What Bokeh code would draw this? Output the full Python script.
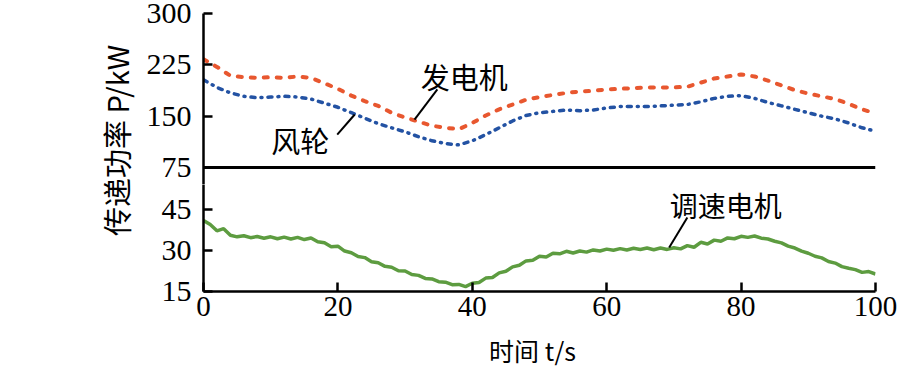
from bokeh.plotting import figure
from bokeh.models import Range1d, FixedTicker, Span, Label
from bokeh.layouts import row, column
from bokeh.embed import file_html
from bokeh.resources import INLINE
from bokeh.core.properties import value
import math

# ---- data ----
t_top = list(range(0, 101, 2))
generator = [233, 222, 209, 207, 206, 207, 206, 208, 206, 198,
             190, 180, 172, 165, 155, 148, 142, 136, 133, 131,
             140, 151, 160, 167, 174, 178, 181, 184, 186, 187,
             189, 190, 191, 192, 192, 192, 193, 199, 205, 208,
             211, 208, 202, 195, 188, 183, 179, 175, 168, 160, 154]
wind_rotor = [203, 192, 184, 179, 177, 178, 179, 178, 175, 169,
              163, 155, 147, 139, 133, 127, 120, 114, 110, 108,
              114, 123, 133, 143, 151, 155, 157, 159, 158, 159,
              162, 164, 164, 164, 165, 166, 167, 171, 176, 179,
              180, 176, 170, 165, 160, 155, 150, 146, 140, 133, 128]

t_low = list(range(0, 101))
speed_motor = [41.0, 39.5, 37.2, 38.0, 35.6, 35.0, 35.4, 34.7, 35.1, 34.5,
               35.0, 34.3, 34.9, 34.2, 34.8, 34.0, 34.6, 33.2, 32.8, 31.4,
               31.6, 29.8, 29.2, 27.8, 27.4, 25.9, 25.5, 24.2, 23.9, 22.6,
               22.5, 21.2, 20.9, 19.8, 19.6, 18.6, 18.4, 17.5, 17.6, 16.8,
               18.0, 18.3, 19.9, 20.1, 21.8, 22.4, 24.0, 24.6, 26.2, 26.4,
               27.9, 27.6, 29.0, 28.8, 29.7, 29.1, 29.8, 29.4, 30.2, 29.8,
               30.5, 30.1, 30.7, 30.2, 30.8, 30.4, 30.9, 30.3, 30.9, 30.4,
               31.0, 30.6, 31.8, 31.2, 33.0, 32.4, 33.8, 33.4, 34.6, 34.3,
               35.2, 34.8, 35.3, 34.5, 34.2, 33.4, 32.8, 31.6, 30.9, 29.8,
               29.0, 27.9, 27.3, 26.0, 25.4, 24.1, 23.5, 23.0, 22.0, 22.3, 21.4]

x_ticks = [0, 20, 40, 60, 80, 100]
top_ticks = [75, 150, 225, 300]
low_ticks = [15, 30, 45]

RED = "#E8572F"
BLUE = "#2352A3"
GREEN = "#5D9C40"
NUM_FONT = "Liberation Serif"
CJK_FONT = "Noto Sans CJK SC"

x_range = Range1d(0, 100)


def style_axes(p):
    for ax in p.yaxis:
        ax.axis_line_width = 2.5
        ax.major_tick_in = 9
        ax.major_tick_out = 0
        ax.major_tick_line_width = 2.5
        ax.minor_tick_line_color = None
        ax.major_label_text_font = NUM_FONT
        ax.major_label_text_font_size = "30px"
        ax.major_label_text_color = "black"
        ax.major_label_standoff = 12
    p.grid.grid_line_color = None
    p.outline_line_color = None
    p.background_fill_color = "white"
    p.border_fill_color = "white"


# ---- top panel ----
top = figure(width=764, height=184, x_range=x_range, y_range=Range1d(50.16, 300),
             output_backend="svg", toolbar_location=None, x_axis_location=None,
             min_border_left=66, min_border_right=26, min_border_top=13, min_border_bottom=0)
style_axes(top)
top.yaxis.ticker = FixedTicker(ticks=top_ticks)

top.line(t_top, generator, line_color=RED, line_width=4, line_dash="4 9", line_cap="round")
top.line(t_top, wind_rotor, line_color=BLUE, line_width=3.5, line_dash="4 6 1 6", line_cap="round")
top.add_layout(Span(location=75, dimension="width", line_color="black", line_width=3))

top.segment(x0=[19.9, 34.8], y0=[123, 189], x1=[22.5, 31.4], y1=[152.4, 145],
            line_color="black", line_width=2)
top.text(x=[14.4, 38.8], y=[114.5, 209.4], text=["风轮", "发电机"],
         text_font=value(CJK_FONT), text_font_size="29px", text_align="center",
         text_baseline="middle", text_color="black")

# ---- bottom panel ----
low = figure(width=764, height=146, x_range=x_range, y_range=Range1d(15, 54.15),
             output_backend="svg", toolbar_location=None,
             min_border_left=66, min_border_right=26, min_border_top=0, min_border_bottom=39)
style_axes(low)
low.yaxis.ticker = FixedTicker(ticks=low_ticks)
xa = low.xaxis[0]
xa.ticker = FixedTicker(ticks=x_ticks)
xa.axis_line_width = 2.5
xa.major_tick_in = 9
xa.major_tick_out = 0
xa.major_tick_line_width = 2.5
xa.minor_tick_line_color = None
xa.major_label_text_font = NUM_FONT
xa.major_label_text_font_size = "29px"
xa.major_label_text_color = "black"
xa.major_label_standoff = 5

low.line(t_low, speed_motor, line_color=GREEN, line_width=3.5)
low.segment(x0=[72.0], y0=[42.1], x1=[69.3], y1=[31.1], line_color="black", line_width=2)
low.text(x=[77.7], y=[46.8], text=["调速电机"], text_font=value(CJK_FONT),
         text_font_size="28px", text_align="center", text_baseline="middle", text_color="black")

# ---- y label strip ----
lab = figure(width=137, height=330, x_range=Range1d(0, 137), y_range=Range1d(0, 330),
             output_backend="svg", toolbar_location=None, x_axis_location=None,
             y_axis_location=None, min_border=0)
lab.grid.grid_line_color = None
lab.outline_line_color = None
lab.add_layout(Label(x=115, y=190, text="传递功率 P/kW", angle=math.pi / 2,
                     text_font=CJK_FONT, text_font_size="29px", text_align="center",
                     text_baseline="middle", text_color="black"))

# ---- x label strip ----
xlab = figure(width=901, height=36, x_range=Range1d(0, 901), y_range=Range1d(0, 36),
              output_backend="svg", toolbar_location=None, x_axis_location=None,
              y_axis_location=None, min_border=0)
xlab.grid.grid_line_color = None
xlab.outline_line_color = None
xlab.add_layout(Label(x=532, y=17, text="时间 t/s", text_font=CJK_FONT,
                      text_font_size="25px", text_align="center", text_baseline="middle",
                      text_color="black"))

layout = column(row(lab, column(top, low)), xlab)

html = file_html(layout, INLINE)
open("out.html", "w").write(html)
